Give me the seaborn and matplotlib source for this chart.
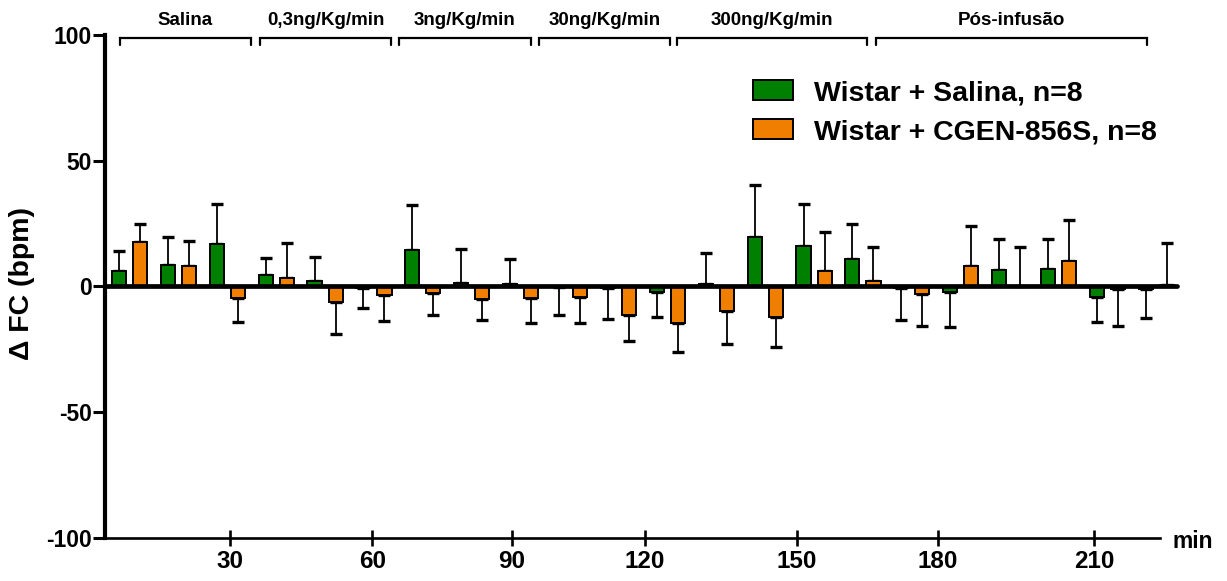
import numpy as np
import pandas as pd
import matplotlib
matplotlib.use("Agg")
import matplotlib.pyplot as plt
import seaborn as sns
from matplotlib.patches import Patch

# ---------------- data ----------------
slots = list(range(1, 23))
group_names = ["Wistar + Salina, n=8", "Wistar + CGEN-856S, n=8"]
salina_mean = [6.3, 8.5, 16.9, 4.4, 2.1, -0.5, 14.5, 1.2, 0.8, -0.3, -0.8,
               -2.2, 0.8, 19.8, 15.9, 10.8, -0.8, -2.4, 6.6, 7.0, -4.1, -1.2]
salina_sem = [7.7, 11.3, 15.9, 7.0, 9.5, 8.1, 18.0, 13.5, 10.0, 11.2, 12.2,
              10.0, 12.4, 20.7, 16.8, 13.9, 12.4, 13.7, 12.4, 11.9, 10.2, 11.4]
cgen_mean = [17.5, 7.9, -4.5, 3.4, -6.3, -3.6, -2.5, -5.0, -4.5, -4.2, -11.2,
             -14.4, -10.0, -12.0, 6.1, 2.1, -2.9, 7.9, 0.2, 9.9, -1.0, 0.5]
cgen_sem = [7.5, 10.1, 9.7, 13.8, 12.5, 10.2, 9.0, 8.5, 10.0, 10.3, 10.5,
            11.6, 12.9, 12.0, 15.5, 13.5, 12.8, 16.1, 15.3, 16.3, 14.9, 16.7]
tick_labels = ["30", "60", "90", "120", "150", "180", "210"]
phase_labels = ["Salina", "0,3ng/Kg/min", "3ng/Kg/min", "30ng/Kg/min",
                "300ng/Kg/min", "Pós-infusão"]

# ---------------- layout (positions in category units) ----------------
tick_pos = [2.06, 4.97, 7.82, 10.54, 13.65, 16.53, 19.73]
phase_spans = [(-0.19, 2.48), (2.67, 5.35), (5.51, 8.21), (8.37, 11.05),
               (11.20, 15.08), (15.26, 20.81)]

green = "#008000"
orange = "#F07F00"

df = pd.DataFrame({
    "slot": slots * 2,
    "group": [group_names[0]] * len(slots) + [group_names[1]] * len(slots),
    "mean": salina_mean + cgen_mean,
})

sns.set_theme(style="white")
plt.rcParams["font.family"] = ["Liberation Sans", "DejaVu Sans"]
plt.rcParams["font.weight"] = "bold"
for k in ["text.color", "axes.labelcolor", "xtick.color", "ytick.color",
          "axes.edgecolor"]:
    plt.rcParams[k] = "black"

W, H = 1227, 581
fig = plt.figure(figsize=(W / 100, H / 100), dpi=100)
ax = fig.add_axes([105 / W, 1 - 537.7 / H, (1180.8 - 105) / W, (537.7 - 35) / H])

sns.barplot(data=df, x="slot", y="mean", hue="group", hue_order=group_names,
            order=slots, palette=[green, orange], dodge=True, width=0.86,
            gap=0.33, edgecolor="black", linewidth=1.4, errorbar=None,
            saturation=1, ax=ax, legend=False, zorder=2)

# one-sided SEM error bars
for cont, means, sems in zip(ax.containers, [salina_mean, cgen_mean],
                             [salina_sem, cgen_sem]):
    xs = [p.get_x() + p.get_width() / 2 for p in cont.patches]
    m = np.array(means)
    s = np.array(sems)
    lower = np.where(m < 0, s, 0)
    upper = np.where(m >= 0, s, 0)
    ax.errorbar(xs, m, yerr=[lower, upper], fmt="none", ecolor="black",
                elinewidth=1.3, capsize=4.5, capthick=2.4, zorder=1)

# zero line
ax.plot([-0.5, 21.42], [0, 0], color="black", lw=3.4,
        solid_capstyle="round", zorder=4, clip_on=False)

ax.set_xlim(-0.5, 21.5)
ax.set_ylim(-100, 100)
ax.set_yticks([-100, -50, 0, 50, 100])
ax.set_yticklabels(["-100", "-50", "0", "50", "100"], fontsize=16.5,
                   fontweight="bold", color="black")
ax.set_xticks(tick_pos)
ax.set_xticklabels(tick_labels, fontsize=17.5, fontweight="bold",
                   color="black")
ax.set_xlabel("")
ax.set_ylabel("")

for sp in ["top", "right"]:
    ax.spines[sp].set_visible(False)
ax.spines["left"].set_linewidth(3.0)
ax.spines["left"].set_color("black")
ax.spines["bottom"].set_linewidth(1.9)
ax.spines["bottom"].set_color("black")
ax.spines["bottom"].set_bounds(-0.5, 21.08)
ax.tick_params(axis="y", direction="out", length=8.5, width=2.2,
               color="black", pad=1, left=True)
ax.tick_params(axis="x", direction="inout", length=12, width=1.9,
               color="black", pad=3, bottom=True)
ax.grid(False)

# phase brackets
for (a, b), lab in zip(phase_spans, phase_labels):
    ax.plot([a, a, b, b], [96.0, 98.8, 98.8, 96.0], color="black", lw=1.6,
            clip_on=False, solid_joinstyle="miter")
    ax.text((a + b) / 2, 102.4, lab, ha="center", va="bottom", fontsize=13.5,
            fontweight="bold", clip_on=False, color="black")

# legend
handles = [Patch(facecolor=green, edgecolor="black", linewidth=1.4),
           Patch(facecolor=orange, edgecolor="black", linewidth=1.4)]
leg = fig.legend(handles, group_names, loc="upper left",
                 bbox_to_anchor=(753 / W, 1 - 80 / H), frameon=False,
                 prop={"size": 20.5, "weight": "bold"}, handlelength=1.4,
                 handleheight=0.72, handletextpad=0.75, labelspacing=0.45,
                 borderpad=0, borderaxespad=0)
for t in leg.get_texts():
    t.set_color("black")

fig.text(22 / W, 1 - 284 / H, "Δ FC (bpm)", rotation=90, ha="center",
         va="center", fontsize=20.5, fontweight="bold", color="black")
fig.text(1173 / W, 1 - 541 / H, "min", ha="left", va="center", fontsize=16.5,
         fontweight="bold", color="black")

fig.savefig("out.png", dpi=100)
